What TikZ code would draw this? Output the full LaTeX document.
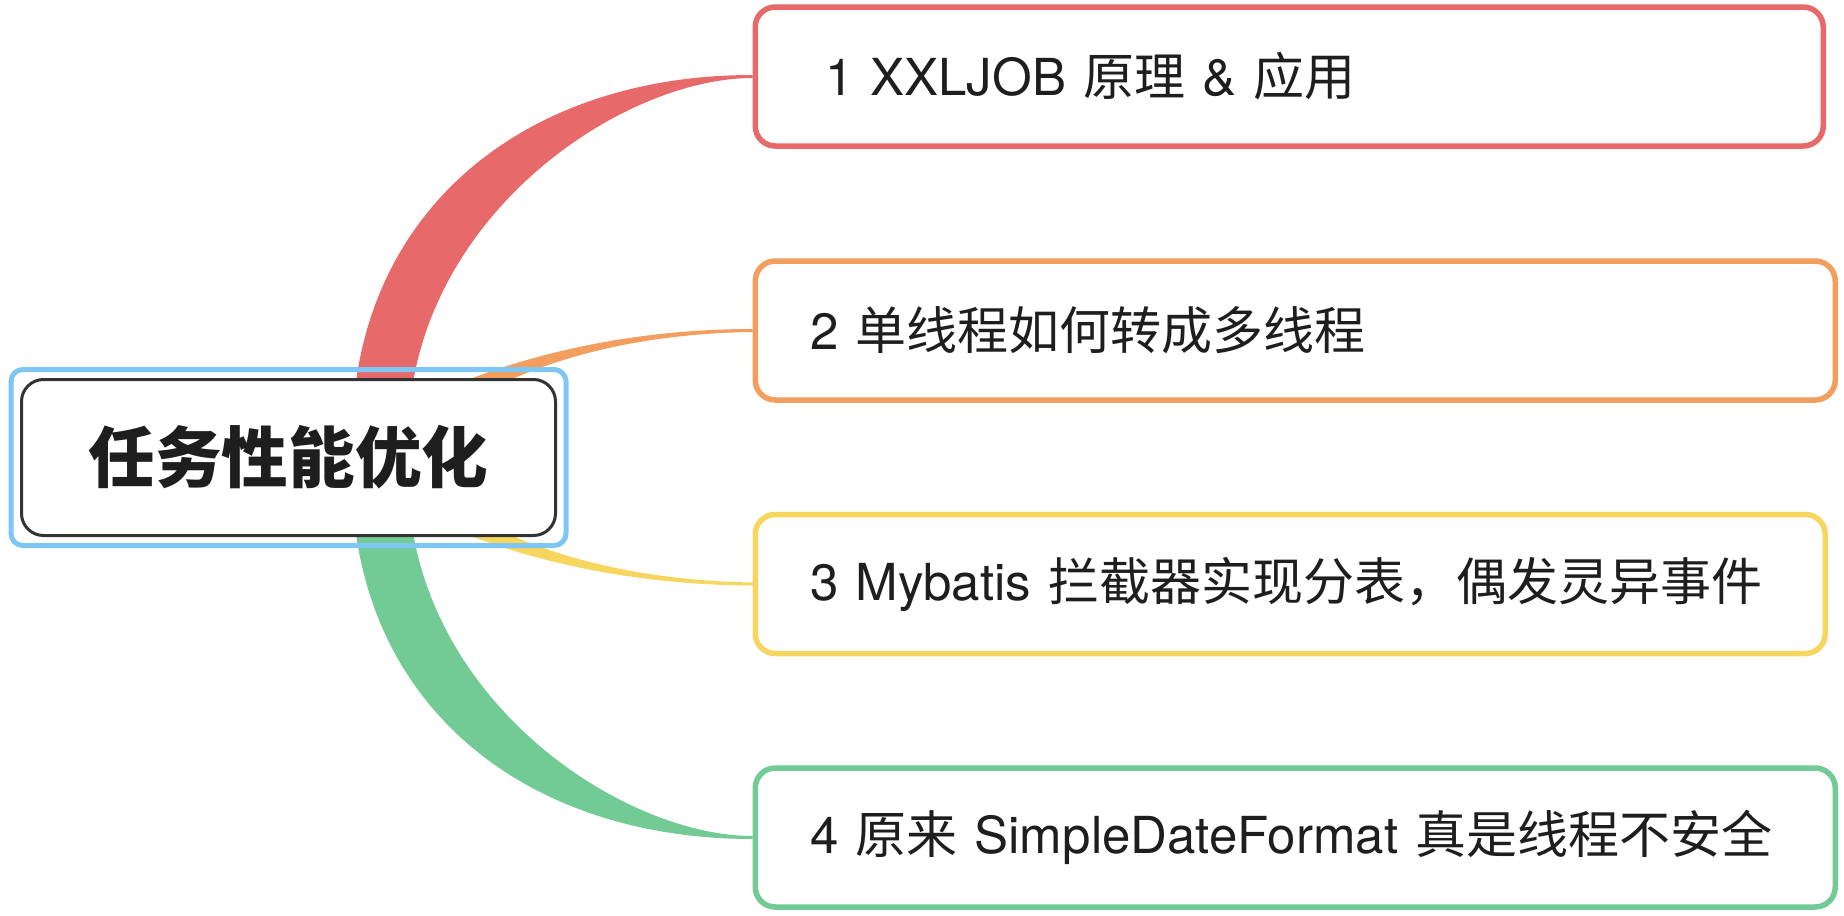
\documentclass[tikz,border=0pt]{standalone}
\usepackage{fontspec}
\setmainfont{TeX Gyre Heros}
\newfontfamily\cjk{Noto Sans CJK SC}
\usepackage{xcolor}
\usepackage{tikz}
\usetikzlibrary{backgrounds}
\definecolor{redc}{HTML}{E8696A}
\definecolor{orangec}{HTML}{F19E5F}
\definecolor{yellowc}{HTML}{F7D660}
\definecolor{greenc}{HTML}{72CA94}
\definecolor{bluec}{HTML}{7EC6F3}
\definecolor{rootline}{HTML}{333333}
\definecolor{textc}{HTML}{1E1E1E}
\tikzset{
  rootbox/.style={draw=rootline, line width=1.5pt, rounded corners=11pt, fill=white, minimum width=267pt, minimum height=78pt, text=textc, font=\cjk\bfseries\fontsize{33.3}{40}\selectfont},
  rootframe/.style={draw=bluec, line width=2.5pt, rounded corners=6pt, minimum width=277.5pt, minimum height=88pt},
  branchbox/.style={line width=2.75pt, rounded corners=10pt, fill=white, minimum height=69.5pt, inner xsep=27.5pt, text width=#1, align=left, anchor=west, text=textc, font=\fontsize{25.5}{31}\selectfont}
}

\begin{document}
\begin{tikzpicture}[x=0.5pt, y=-0.5pt]
\useasboundingbox (0,0) rectangle (1844,916);

% Nodes
\node[rootframe] (frame) at (288.5,457.5) {};
\node[rootbox] (root) at (288.5,457.5) {任务性能优化};
\node[branchbox=479pt, draw=redc] (b1) at (752.5,76.5) {\hspace*{7.5pt}1 XXLJOB {\cjk 原理} \& {\cjk 应用}};
\node[branchbox=485pt, draw=orangec] (b2) at (752.5,330.5) {2 {\cjk 单线程如何转成多线程}};
\node[branchbox=480pt, draw=yellowc] (b3) at (752.5,584) {3 Mybatis {\cjk 拦截器实现分表，偶发灵异事件}};
\node[branchbox=485pt, draw=greenc] (b4) at (752.5,837.5) {4 {\cjk 原来} SimpleDateFormat {\cjk 真是线程不安全}};

% Edges
\begin{scope}[on background layer]
\fill[redc] ([shift={(63.5,-17.5)}]root.center) .. controls (352,215) and (520,75) .. ([yshift=0.75pt]b1.west)
  -- ([yshift=-0.75pt]b1.west) .. controls (620,78) and (408,220) .. ([shift={(119.5,-17.5)}]root.center) -- cycle;
\fill[orangec] ([shift={(106.5,-42.5)}]root.center) .. controls (470,370) and (600,329) .. ([yshift=0.75pt]b2.west)
  -- ([yshift=-0.75pt]b2.west) .. controls (610,334) and (500,372) .. ([shift={(136.5,-27.5)}]root.center) -- cycle;
\fill[yellowc] ([shift={(106.5,42.5)}]root.center) .. controls (470,545) and (600,585) .. ([yshift=-0.75pt]b3.west)
  -- ([yshift=0.75pt]b3.west) .. controls (610,580) and (500,543) .. ([shift={(136.5,27.5)}]root.center) -- cycle;
\fill[greenc] ([shift={(63.5,17.5)}]root.center) .. controls (352,700) and (520,839) .. ([yshift=-0.75pt]b4.west)
  -- ([yshift=0.75pt]b4.west) .. controls (620,836) and (408,695) .. ([shift={(119.5,17.5)}]root.center) -- cycle;
\end{scope}

\end{tikzpicture}
\end{document}
